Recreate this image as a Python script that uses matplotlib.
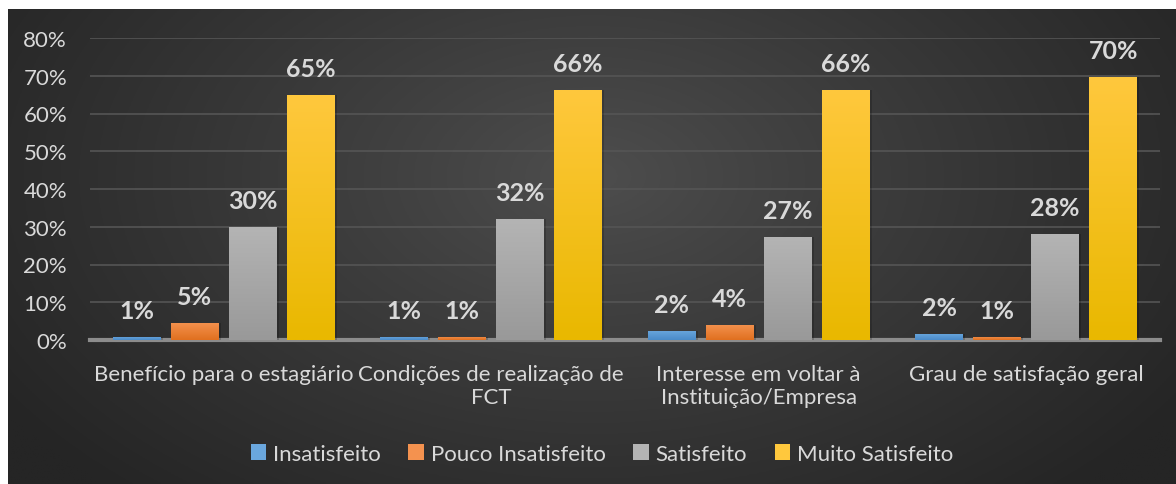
import numpy as np
import matplotlib
matplotlib.use("Agg")
import matplotlib.pyplot as plt
from matplotlib.colors import LinearSegmentedColormap

plt.rcParams['font.family'] = ['Lato', 'DejaVu Sans']

categories = ["Benefício para o estagiário", "Condições de realização de\nFCT",
              "Interesse em voltar à\nInstituição/Empresa", "Grau de satisfação geral"]
series_names = ["Insatisfeito", "Pouco Insatisfeito", "Satisfeito", "Muito Satisfeito"]
insatisfeito = [0.008, 0.009, 0.024, 0.016]
pouco_insatisfeito = [0.046, 0.009, 0.041, 0.009]
satisfeito = [0.299, 0.320, 0.272, 0.280]
muito_satisfeito = [0.649, 0.663, 0.663, 0.698]
series_values = [insatisfeito, pouco_insatisfeito, satisfeito, muito_satisfeito]
labels = [["1%", "1%", "2%", "2%"], ["5%", "1%", "4%", "1%"],
          ["30%", "32%", "27%", "28%"], ["65%", "66%", "66%", "70%"]]
yticks = [0, 0.1, 0.2, 0.3, 0.4, 0.5, 0.6, 0.7, 0.8]
ytick_labels = ["0%", "10%", "20%", "30%", "40%", "50%", "60%", "70%", "80%"]

top_colors = ["#6aa7de", "#f4924f", "#b4b4b4", "#ffc83d"]
bot_colors = ["#4a8bc9", "#e0701f", "#999999", "#e9b800"]

W, H = 1176, 485
fig = plt.figure(figsize=(W / 100, H / 100), dpi=100)
fig.patch.set_facecolor("white")

# background panel with radial gradient
bg = fig.add_axes([8 / W, 0, 1 - 8 / W, 1 - 10 / H])
bg.set_axis_off()
ny, nx = 240, 580
yy, xx = np.mgrid[0:ny, 0:nx]
cx, cy = nx * 0.5, ny * 0.35
r = np.sqrt(((xx - cx) / (nx * 0.6)) ** 2 + ((yy - cy) / (ny * 0.9)) ** 2)
r = np.clip(r, 0, 1)
c_center = np.array([0x4e, 0x4e, 0x4e]) / 255
c_edge = np.array([0x25, 0x25, 0x25]) / 255
img = c_center[None, None, :] + (c_edge - c_center)[None, None, :] * r[..., None] ** 0.9
bg.imshow(img, aspect="auto", extent=[0, 1, 0, 1], origin="upper")
bg.set_xlim(0, 1)
bg.set_ylim(0, 1)

ax = fig.add_axes([90 / W, 1 - 341 / H, (1160 - 90) / W, (341 - 39) / H])
ax.patch.set_alpha(0)
ax.set_ylim(0, 0.8)
ax.set_xlim(-0.5, len(categories) - 0.5)

x = np.arange(len(categories))
step = 0.2168
width = 0.179
text_c = "#d9d9d9"

for i, (vals, name) in enumerate(zip(series_values, series_names)):
    xs = x + (i - 1.5) * step
    bars = ax.bar(xs, vals, width=width, color=top_colors[i], label=name, zorder=3,
                  linewidth=0)
    cmap = LinearSegmentedColormap.from_list("g%d" % i, [bot_colors[i], top_colors[i]])
    for b in bars:
        x0, y0 = b.get_x(), b.get_y()
        w, h = b.get_width(), b.get_height()
        # shadow
        ax.bar(x0 + w / 2 + 0.008, h, width=w, bottom=y0, color="black", alpha=0.18,
               zorder=2.5, linewidth=0)
        grad = np.linspace(0, 1, 100).reshape(-1, 1)
        im = ax.imshow(grad, cmap=cmap, aspect="auto", extent=[x0, x0 + w, y0, y0 + h],
                       origin="lower", zorder=3.2)
        im.set_clip_path(b)
    for xi, v, lab in zip(xs, vals, labels[i]):
        ax.annotate(lab, (xi, v), xytext=(0, 19), textcoords="offset points",
                    ha="center", va="center", fontsize=18, fontweight="bold",
                    color=text_c, zorder=5)

ax.set_xlim(-0.5, len(categories) - 0.5)
ax.set_ylim(0, 0.8)
ax.set_yticks(yticks)
ax.set_yticklabels(ytick_labels)
ax.set_xticks(x)
ax.set_xticklabels(categories, linespacing=1.2)
ax.tick_params(axis="both", length=0, colors=text_c, labelsize=16)
ax.tick_params(axis="x", pad=17)
ax.tick_params(axis="y", pad=16.5)
for lab in ax.get_yticklabels():
    lab.set_horizontalalignment("right")
ax.grid(axis="y", color="#555555", linewidth=1.2, zorder=0)
ax.set_axisbelow(True)
for s in ["top", "right", "left"]:
    ax.spines[s].set_visible(False)
ax.spines["bottom"].set_color("#8c8c8c")
ax.spines["bottom"].set_linewidth(3)
ax.spines["bottom"].set_zorder(2)

leg = ax.legend(loc="center",
                bbox_to_anchor=((602 - 90) / (1160 - 90),
                                (1 - 455 / H - (1 - 341 / H)) / ((341 - 39) / H)),
                ncol=4, frameon=False, fontsize=16, handlelength=0.7, handleheight=0.7,
                handletextpad=0.3, columnspacing=1.25, labelcolor=text_c)

fig.savefig("out.png", dpi=100, facecolor=fig.get_facecolor())
